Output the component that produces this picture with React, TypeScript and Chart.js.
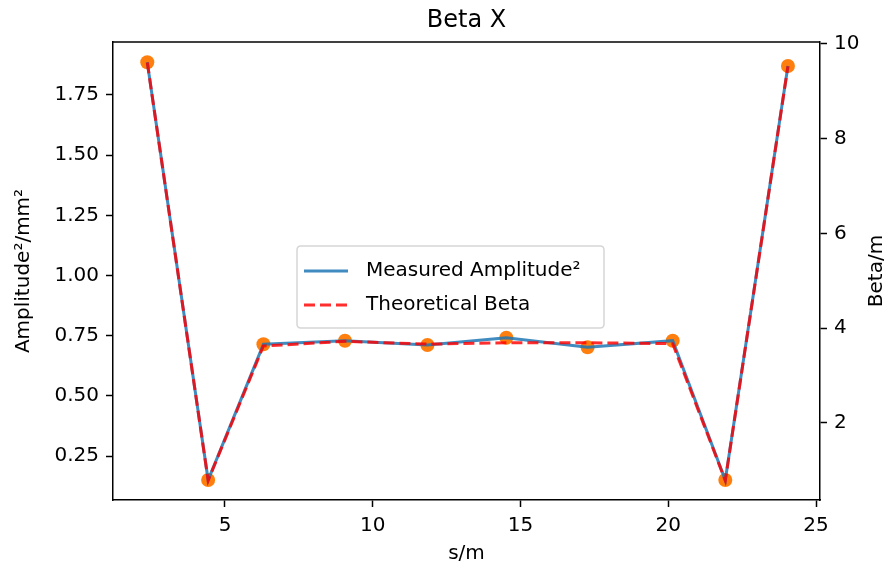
import React, { useEffect, useRef } from "react";
import { Chart, registerables } from "chart.js";

Chart.register(...registerables);

// ---- data ----
const positions = [2.37, 4.43, 6.3, 9.06, 11.85, 14.52, 17.27, 20.15, 21.93, 24.05];
const measuredAmp2 = [1.886, 0.15, 0.714, 0.729, 0.711, 0.741, 0.702, 0.729, 0.15, 1.87];
const theoreticalBeta = [9.61, 0.78, 3.62, 3.72, 3.66, 3.69, 3.69, 3.67, 0.78, 9.53];
const xTicks = [5, 10, 15, 20, 25];
const ampTicks = [0.25, 0.5, 0.75, 1.0, 1.25, 1.5, 1.75];
const betaTicks = [2, 4, 6, 8, 10];

const TITLE = "Beta X";
const X_LABEL = "s/m";
const Y_LABEL = "Amplitude\u00B2/mm\u00B2";
const Y2_LABEL = "Beta/m";
const LEGEND_MEASURED = "Measured Amplitude\u00B2";
const LEGEND_BETA = "Theoretical Beta";

const FONT = '"DejaVu Sans", sans-serif';
const BLUE = "rgba(31,119,180,0.85)";
const RED = "rgba(255,0,0,0.82)";
const ORANGE = "#ff7f0e";

const decorations = {
  id: "decorations",
  afterDraw(chart: any) {
    const { ctx, chartArea: ca } = chart;
    const midX = (ca.left + ca.right) / 2;
    const midY = (ca.top + ca.bottom) / 2;
    ctx.save();
    // top spine
    ctx.strokeStyle = "#000";
    ctx.lineWidth = 1.5;
    ctx.beginPath();
    ctx.moveTo(ca.left, ca.top);
    ctx.lineTo(ca.right, ca.top);
    ctx.stroke();

    ctx.fillStyle = "#000";
    ctx.textAlign = "center";
    ctx.textBaseline = "middle";
    ctx.font = `24px ${FONT}`;
    ctx.fillText(TITLE, midX, 21);

    ctx.font = `20px ${FONT}`;
    ctx.fillText(X_LABEL, midX, 554);

    ctx.save();
    ctx.translate(24, midY);
    ctx.rotate(-Math.PI / 2);
    ctx.fillText(Y_LABEL, 0, 0);
    ctx.restore();

    ctx.save();
    ctx.translate(877, midY);
    ctx.rotate(-Math.PI / 2);
    ctx.fillText(Y2_LABEL, 0, 0);
    ctx.restore();

    // legend
    const lx = 297, ly = 246, lw = 307, lh = 82, r = 4;
    ctx.beginPath();
    ctx.moveTo(lx + r, ly);
    ctx.lineTo(lx + lw - r, ly);
    ctx.quadraticCurveTo(lx + lw, ly, lx + lw, ly + r);
    ctx.lineTo(lx + lw, ly + lh - r);
    ctx.quadraticCurveTo(lx + lw, ly + lh, lx + lw - r, ly + lh);
    ctx.lineTo(lx + r, ly + lh);
    ctx.quadraticCurveTo(lx, ly + lh, lx, ly + lh - r);
    ctx.lineTo(lx, ly + r);
    ctx.quadraticCurveTo(lx, ly, lx + r, ly);
    ctx.closePath();
    ctx.fillStyle = "rgba(255,255,255,0.8)";
    ctx.fill();
    ctx.strokeStyle = "#d6d6d6";
    ctx.lineWidth = 1.5;
    ctx.stroke();

    ctx.lineWidth = 3;
    ctx.strokeStyle = BLUE;
    ctx.beginPath();
    ctx.moveTo(304, 271);
    ctx.lineTo(348, 271);
    ctx.stroke();

    ctx.strokeStyle = RED;
    ctx.setLineDash([11, 5]);
    ctx.beginPath();
    ctx.moveTo(304, 305);
    ctx.lineTo(348, 305);
    ctx.stroke();
    ctx.setLineDash([]);

    ctx.fillStyle = "#000";
    ctx.textAlign = "left";
    ctx.font = `20px ${FONT}`;
    ctx.fillText(LEGEND_MEASURED, 366, 271);
    ctx.fillText(LEGEND_BETA, 366, 305);
    ctx.restore();
  },
};

export default function App() {
  const ref = useRef<HTMLCanvasElement>(null);
  useEffect(() => {
    document.body.style.margin = "0";
    const canvas = ref.current!;
    const pts = (ys: number[]) => positions.map((x, i) => ({ x, y: ys[i] }));
    const tickFont = { family: FONT, size: 20 };
    const grid = {
      display: true,
      drawOnChartArea: false,
      drawTicks: true,
      tickLength: 7,
      tickColor: "#000",
      tickWidth: 1.5,
    };
    const border = { display: true, color: "#000", width: 1.5 };
    const chart = new Chart(canvas, {
      type: "scatter",
      data: {
        datasets: [
          {
            label: "points",
            data: pts(measuredAmp2),
            yAxisID: "y",
            showLine: false,
            pointRadius: 7,
            pointHoverRadius: 7,
            pointBackgroundColor: ORANGE,
            pointBorderWidth: 0,
            order: 3,
          },
          {
            label: LEGEND_MEASURED,
            data: pts(measuredAmp2),
            yAxisID: "y",
            showLine: true,
            borderColor: BLUE,
            borderWidth: 3,
            pointRadius: 0,
            order: 2,
          },
          {
            label: LEGEND_BETA,
            data: pts(theoreticalBeta),
            yAxisID: "y1",
            showLine: true,
            borderColor: RED,
            borderWidth: 3,
            borderDash: [11, 5],
            pointRadius: 0,
            order: 1,
          },
        ],
      },
      options: {
        responsive: false,
        animation: false,
        devicePixelRatio: 1,
        layout: { padding: { top: 42, left: 0, right: 0, bottom: 0 } },
        plugins: {
          legend: { display: false },
          title: { display: false },
          tooltip: { enabled: false },
        },
        scales: {
          x: {
            type: "linear",
            position: "bottom",
            min: 1.21,
            max: 25.135,
            afterBuildTicks: (s: any) => {
              s.ticks = xTicks.map((v) => ({ value: v }));
            },
            afterFit: (s: any) => {
              s.height = 70;
            },
            ticks: { font: tickFont, color: "#000", padding: 7, maxRotation: 0, callback: (v: any) => String(v) },
            grid,
            border,
          },
          y: {
            type: "linear",
            position: "left",
            min: 0.0672,
            max: 1.97,
            afterBuildTicks: (s: any) => {
              s.ticks = ampTicks.map((v) => ({ value: v }));
            },
            afterFit: (s: any) => {
              s.width = 113;
            },
            ticks: { font: tickFont, color: "#000", padding: 7, callback: (v: any) => Number(v).toFixed(2) },
            grid,
            border,
          },
          y1: {
            type: "linear",
            position: "right",
            min: 0.368,
            max: 10.042,
            afterBuildTicks: (s: any) => {
              s.ticks = betaTicks.map((v) => ({ value: v }));
            },
            afterFit: (s: any) => {
              s.width = 69;
            },
            ticks: { font: tickFont, color: "#000", padding: 7, callback: (v: any) => String(v) },
            grid,
            border,
          },
        },
      },
      plugins: [decorations],
    });
    return () => chart.destroy();
  }, []);
  return (
    <div style={{ width: 889, height: 570, background: "#fff" }}>
      <canvas ref={ref} width={889} height={570} style={{ display: "block" }} />
    </div>
  );
}
